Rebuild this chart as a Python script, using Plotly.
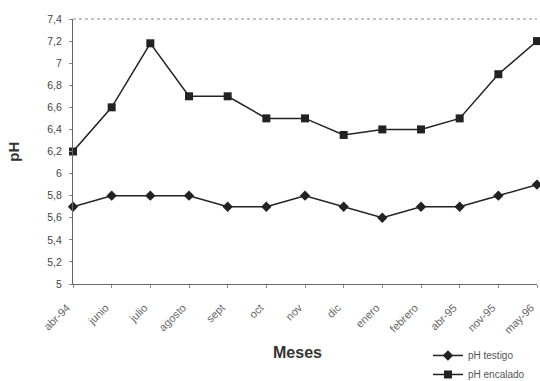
import plotly.graph_objects as go

meses = ["abr-94", "junio", "julio", "agosto", "sept", "oct", "nov", "dic",
         "enero", "febrero", "abr-95", "nov-95", "may-96"]
ph_testigo = [5.7, 5.8, 5.8, 5.8, 5.7, 5.7, 5.8, 5.7, 5.6, 5.7, 5.7, 5.8, 5.9]
ph_encalado = [6.2, 6.6, 7.18, 6.7, 6.7, 6.5, 6.5, 6.35, 6.4, 6.4, 6.5, 6.9, 7.2]
y_ticks = [5.0, 5.2, 5.4, 5.6, 5.8, 6.0, 6.2, 6.4, 6.6, 6.8, 7.0, 7.2, 7.4]
y_labels = ["5", "5,2", "5,4", "5,6", "5,8", "6", "6,2", "6,4", "6,6", "6,8", "7", "7,2", "7,4"]

xs = list(range(len(meses)))
line_col = "#222222"

fig = go.Figure()
fig.add_trace(go.Scatter(
    x=xs, y=ph_testigo, name="pH testigo", mode="lines+markers",
    line=dict(color=line_col, width=1.5),
    marker=dict(symbol="diamond", size=8, color=line_col),
    cliponaxis=False))
fig.add_trace(go.Scatter(
    x=xs, y=ph_encalado, name="pH encalado", mode="lines+markers",
    line=dict(color=line_col, width=1.5),
    marker=dict(symbol="square", size=8, color=line_col),
    cliponaxis=False))

fig.update_layout(
    width=540, height=381,
    margin=dict(l=73, r=3, t=19, b=97, autoexpand=False),
    paper_bgcolor="white", plot_bgcolor="white",
    font=dict(family="Liberation Sans, Arial, sans-serif", size=10, color="#555555"),
    showlegend=True,
    legend=dict(x=0.765, y=-0.215, xanchor="left", yanchor="top",
                font=dict(size=10, color="#555555"), bgcolor="rgba(0,0,0,0)",
                tracegroupgap=0, itemwidth=30),
    xaxis=dict(
        range=[0, len(meses) - 1], tickmode="array", tickvals=xs, ticktext=meses,
        tickangle=-45, showgrid=False, zeroline=False, automargin=False,
        showline=True, linecolor="#666666", linewidth=1, mirror=False,
        ticks="outside", ticklen=3, tickcolor="#888888",
        tickfont=dict(size=11, color="#666666"), ticklabelstandoff=9,
        ticklabelshift=-6, ticklabeloverflow="allow",
    ),
    yaxis=dict(
        range=[5.0, 7.4], tickmode="array", tickvals=y_ticks, ticktext=y_labels,
        showgrid=False, zeroline=False, automargin=False,
        showline=True, linecolor="#666666", linewidth=1,
        ticks="outside", ticklen=3, tickcolor="#888888", ticklabelstandoff=5,
        tickfont=dict(size=10.5, color="#444444"),
    ),
    annotations=[
        dict(text="<b>Meses</b>", xref="paper", yref="paper", x=0.483, y=-0.257,
             xanchor="center", yanchor="middle", showarrow=False,
             font=dict(size=16, color="#333333")),
        dict(text="<b>pH</b>", xref="paper", yref="paper", x=-0.129, y=0.5,
             xanchor="center", yanchor="middle", showarrow=False, textangle=-90,
             font=dict(size=15, color="#333333")),
    ],
)
# faint top frame line
fig.add_shape(type="line", xref="paper", yref="paper", x0=0, x1=1, y0=1, y1=1,
              line=dict(color="#888888", width=1, dash="dot"))

fig.write_html("out.html", config={"displayModeBar": False},
               post_script="document.body.style.margin='0';")
